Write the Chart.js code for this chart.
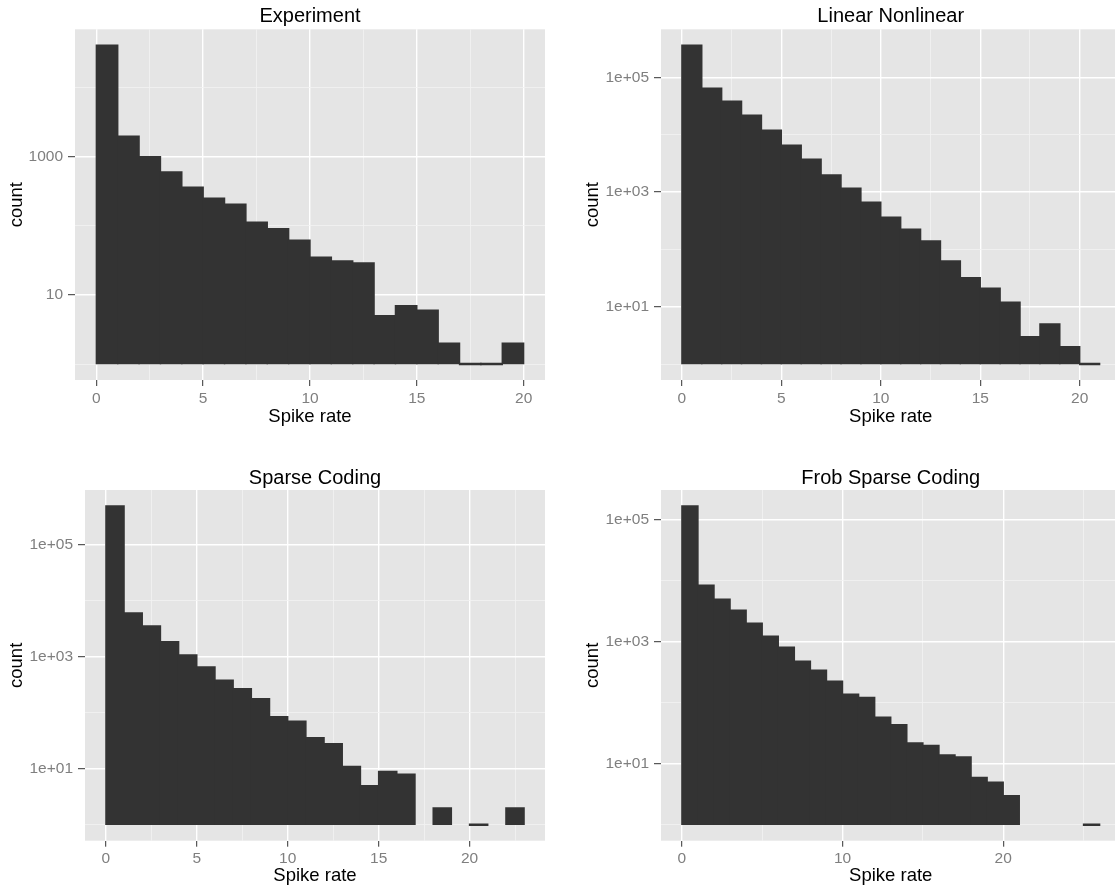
<!DOCTYPE html>
<html>
<head>
<meta charset="utf-8">
<script src="https://cdn.jsdelivr.net/npm/chart.js@4.4.1/dist/chart.umd.min.js"></script>
<style>
  html, body { margin: 0; padding: 0; background: #fff; }
  body { position: relative; width: 1115px; height: 888px; overflow: hidden; }
  canvas { position: absolute; }
  #expChart { left: 0; top: 0; }
  #lnChart { left: 557px; top: 0; }
  #scChart { left: 0; top: 440px; }
  #frobChart { left: 557px; top: 440px; }
</style>
</head>
<body>
<canvas id="expChart" width="557" height="440"></canvas>
<canvas id="lnChart" width="566" height="440"></canvas>
<canvas id="scChart" width="557" height="448"></canvas>
<canvas id="frobChart" width="566" height="448"></canvas>
<script>
// histogram counts, one bin per unit of spike rate starting at 0 (null = empty bin)
const expCounts = [40800, 1980, 1000, 600, 360, 250, 205, 113, 91, 62, 35, 31, 29, 5, 7, 6, 2, 1, 1, 2];
const lnCounts = [366000, 65200, 38700, 22000, 12000, 6600, 3770, 2000, 1175, 670, 366, 226, 140, 63, 32, 21, 12, 3, 5, 2, 1];
const scCounts = [498000, 6080, 3560, 1865, 1078, 658, 385, 270, 179, 85, 71, 36, 28, 11, 5, 9, 8, null, 2, null, 1, null, 2];
const frobCounts = [170000, 8550, 5020, 3320, 2030, 1240, 817, 481, 342, 226, 138, 123, 58, 44, 22, 20, 14, 13, 6, 5, 3, null, null, null, null, 1];

// axis breaks
const xMajor5 = [0, 5, 10, 15, 20];
const xMinor5 = [2.5, 7.5, 12.5, 17.5, 22.5];
const xMajor10 = [0, 10, 20];
const xMinor10 = [5, 15, 25];
const expYMajor = [10, 1000];
const expYLabels = ['10', '1000'];
const sciYMajor = [10, 1000, 100000];
const sciYLabels = ['1e+01', '1e+03', '1e+05'];
const yMinor = [1, 100, 10000];

const FONT = "'Liberation Sans', Arial, Helvetica, sans-serif";

const panelBg = {
    id: 'panelBg',
    beforeDraw(chart) {
        const { ctx, chartArea: a } = chart;
        ctx.save();
        ctx.fillStyle = '#E5E5E5';
        ctx.fillRect(a.left, a.top, a.right - a.left, a.bottom - a.top);
        ctx.restore();
    }
};

function buildPanel(id, title, counts, xMajor, xMinor, yMajor, yLabels, lay) {
    const nb = counts.length;
    const top = Math.log10(Math.max(...counts.filter(v => v !== null)));
    const xMin = -0.05 * nb, xMax = nb * 1.05;
    const yMin = Math.pow(10, -0.05 * top), yMax = Math.pow(10, 1.05 * top);
    const xTicks = xMajor.concat(xMinor).filter(v => v >= xMin && v <= xMax).sort((a, b) => a - b);
    const yTicks = yMajor.concat(yMinor).filter(v => v >= yMin && v <= yMax).sort((a, b) => a - b);
    const isMaj = (list, c) => c.tick && list.includes(c.tick.value);

    new Chart(document.getElementById(id), {
        type: 'bar',
        data: {
            datasets: [{
                data: counts.map((c, i) => ({ x: i + 0.5, y: c })),
                backgroundColor: '#333333',
                borderWidth: 0,
                inflateAmount: 0.7,
                base: 1,
                minBarLength: 1,
                barPercentage: 1,
                categoryPercentage: 1
            }]
        },
        options: {
            responsive: false,
            animation: false,
            layout: { padding: { left: 0, right: lay.padRight, top: 0, bottom: 0 } },
            plugins: {
                legend: { display: false },
                tooltip: { enabled: false },
                title: {
                    display: true,
                    text: title,
                    color: '#000',
                    fullSize: false,
                    font: { family: FONT, size: 20, weight: 'normal', lineHeight: 1.2 },
                    padding: { top: lay.titleTop, bottom: lay.titleBottom }
                }
            },
            scales: {
                x: {
                    type: 'linear',
                    min: xMin,
                    max: xMax,
                    offset: false,
                    bounds: 'data',
                    afterBuildTicks: s => { s.ticks = xTicks.map(v => ({ value: v })); },
                    afterFit: s => { s.height = lay.xAxisH; },
                    border: { display: false },
                    grid: {
                        offset: false,
                        color: c => isMaj(xMajor, c) ? '#FFFFFF' : '#F2F2F2',
                        lineWidth: c => isMaj(xMajor, c) ? 1.4 : 0.8,
                        tickLength: 6,
                        tickWidth: 1,
                        tickColor: c => isMaj(xMajor, c) ? '#333333' : 'rgba(0,0,0,0)'
                    },
                    ticks: {
                        autoSkip: false,
                        maxRotation: 0,
                        minRotation: 0,
                        padding: 3,
                        color: '#7F7F7F',
                        font: { family: FONT, size: 15.5 },
                        callback: v => xMajor.includes(v) ? String(v) : ''
                    },
                    title: {
                        display: true,
                        text: 'Spike rate',
                        color: '#000',
                        font: { family: FONT, size: 18.5, lineHeight: 1.2 },
                        padding: { top: 0, bottom: lay.xTitlePad }
                    }
                },
                y: {
                    type: 'logarithmic',
                    min: yMin,
                    max: yMax,
                    bounds: 'data',
                    afterBuildTicks: s => { s.ticks = yTicks.map(v => ({ value: v })); },
                    afterFit: s => { s.width = lay.yAxisW; },
                    border: { display: false },
                    grid: {
                        color: c => isMaj(yMajor, c) ? '#FFFFFF' : '#F2F2F2',
                        lineWidth: c => isMaj(yMajor, c) ? 1.4 : 0.8,
                        tickLength: 7,
                        tickWidth: 1,
                        tickColor: c => isMaj(yMajor, c) ? '#333333' : 'rgba(0,0,0,0)'
                    },
                    ticks: {
                        autoSkip: false,
                        padding: 5,
                        color: '#7F7F7F',
                        font: { family: FONT, size: 15.5 },
                        callback: v => {
                            const k = yMajor.indexOf(v);
                            return k >= 0 ? yLabels[k] : '';
                        }
                    },
                    title: {
                        display: true,
                        text: 'count',
                        color: '#000',
                        font: { family: FONT, size: 18.5, lineHeight: 1.2 },
                        padding: { top: lay.yTitlePad, bottom: 0 }
                    }
                }
            }
        },
        plugins: [panelBg]
    });
}

buildPanel('expChart', 'Experiment', expCounts, xMajor5, xMinor5, expYMajor, expYLabels,
    { padRight: 12, titleTop: 4.7, titleBottom: 0.6, xAxisH: 60, xTitlePad: 12, yAxisW: 75, yTitlePad: 6 });
buildPanel('lnChart', 'Linear Nonlinear', lnCounts, xMajor5, xMinor5, sciYMajor, sciYLabels,
    { padRight: 2.5, titleTop: 4.7, titleBottom: 0.6, xAxisH: 60, xTitlePad: 12, yAxisW: 104, yTitlePad: 25 });
buildPanel('scChart', 'Sparse Coding', scCounts, xMajor5, xMinor5, sciYMajor, sciYLabels,
    { padRight: 12, titleTop: 26, titleBottom: 0, xAxisH: 47.3, xTitlePad: 1, yAxisW: 85, yTitlePad: 6 });
buildPanel('frobChart', 'Frob Sparse Coding', frobCounts, xMajor10, xMinor10, sciYMajor, sciYLabels,
    { padRight: 2.5, titleTop: 26, titleBottom: 0, xAxisH: 47.3, xTitlePad: 1, yAxisW: 104, yTitlePad: 25 });
</script>
</body>
</html>
